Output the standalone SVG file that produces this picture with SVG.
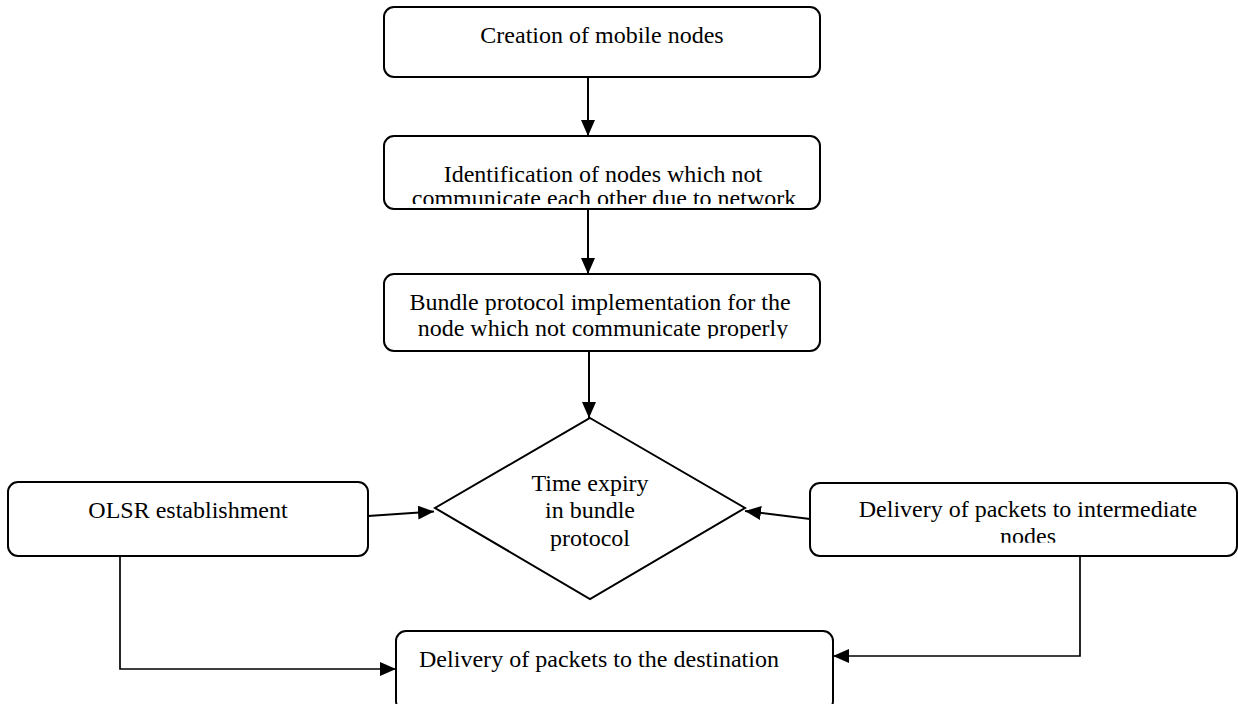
<svg xmlns="http://www.w3.org/2000/svg" width="1238" height="704" viewBox="0 0 1238 704">
<style>
.box{fill:#fff;stroke:#000;stroke-width:2}
.t{font-family:"Liberation Serif","Times New Roman",serif;font-size:24px;fill:#000}
.c{text-anchor:middle}
.con{fill:none;stroke:#000;stroke-width:2}
.thin{fill:none;stroke:#000;stroke-width:1.7}
</style>
<defs>
<marker id="ah" markerWidth="16" markerHeight="14" refX="16" refY="7" orient="auto" markerUnits="userSpaceOnUse">
<path d="M0,0 L16,7 L0,14 Z" fill="#000"/>
</marker>
<clipPath id="clip2"><rect x="384" y="136" width="436" height="68"/></clipPath>
<clipPath id="clip3"><rect x="384" y="274" width="436" height="64.5"/></clipPath>
<clipPath id="clipR"><rect x="810" y="482" width="428" height="60.7"/></clipPath>
</defs>
<rect width="1238" height="704" fill="#fff"/>
<g id="n1">
<rect class="box" x="384" y="7" width="436" height="70" rx="10"/>
<text class="t c" x="602" y="43">Creation of mobile nodes</text>
</g>
<g id="n2">
<rect class="box" x="384" y="136" width="436" height="73" rx="10"/>
<g clip-path="url(#clip2)">
<text class="t c" x="603" y="182">Identification of nodes which not</text>
<text class="t c" x="604" y="206">communicate each other due to network</text>
</g>
</g>
<g id="n3">
<rect class="box" x="384" y="274" width="436" height="77" rx="10"/>
<g clip-path="url(#clip3)">
<text class="t c" x="600" y="310">Bundle protocol implementation for the</text>
<text class="t c" x="603" y="336">node which not communicate properly</text>
</g>
</g>
<g id="n4">
<polygon points="590,418 745,508 590,599 435,508" fill="#fff" stroke="#000" stroke-width="2"/>
<text class="t c" x="590" y="491">Time expiry</text>
<text class="t c" x="590" y="518">in bundle</text>
<text class="t c" x="590" y="546">protocol</text>
</g>
<g id="n5">
<rect class="box" x="8" y="482" width="360" height="74" rx="10"/>
<text class="t c" x="188" y="518">OLSR establishment</text>
</g>
<g id="n6">
<rect class="box" x="810" y="483" width="427" height="73" rx="10"/>
<g clip-path="url(#clipR)">
<text class="t c" x="1028" y="517">Delivery of packets to intermediate</text>
<text class="t c" x="1028" y="544">nodes</text>
</g>
</g>
<g id="n7">
<rect class="box" x="396" y="631" width="437" height="80" rx="10"/>
<text class="t" x="419" y="667" textLength="360">Delivery of packets to the destination</text>
</g>
<g id="connectors">
<line class="con" x1="588" y1="77" x2="588" y2="136" marker-end="url(#ah)"/>
<line class="con" x1="588" y1="209" x2="588" y2="274" marker-end="url(#ah)"/>
<line class="con" x1="589" y1="351" x2="589" y2="418" marker-end="url(#ah)"/>
<line class="con" x1="368" y1="516" x2="434" y2="511.5" marker-end="url(#ah)"/>
<line class="con" x1="810" y1="519" x2="745" y2="511" marker-end="url(#ah)"/>
<polyline class="thin" points="120,556 120,669 396,669" marker-end="url(#ah)"/>
<polyline class="thin" points="1080,556 1080,656 833,656" marker-end="url(#ah)"/>
</g>
</svg>
